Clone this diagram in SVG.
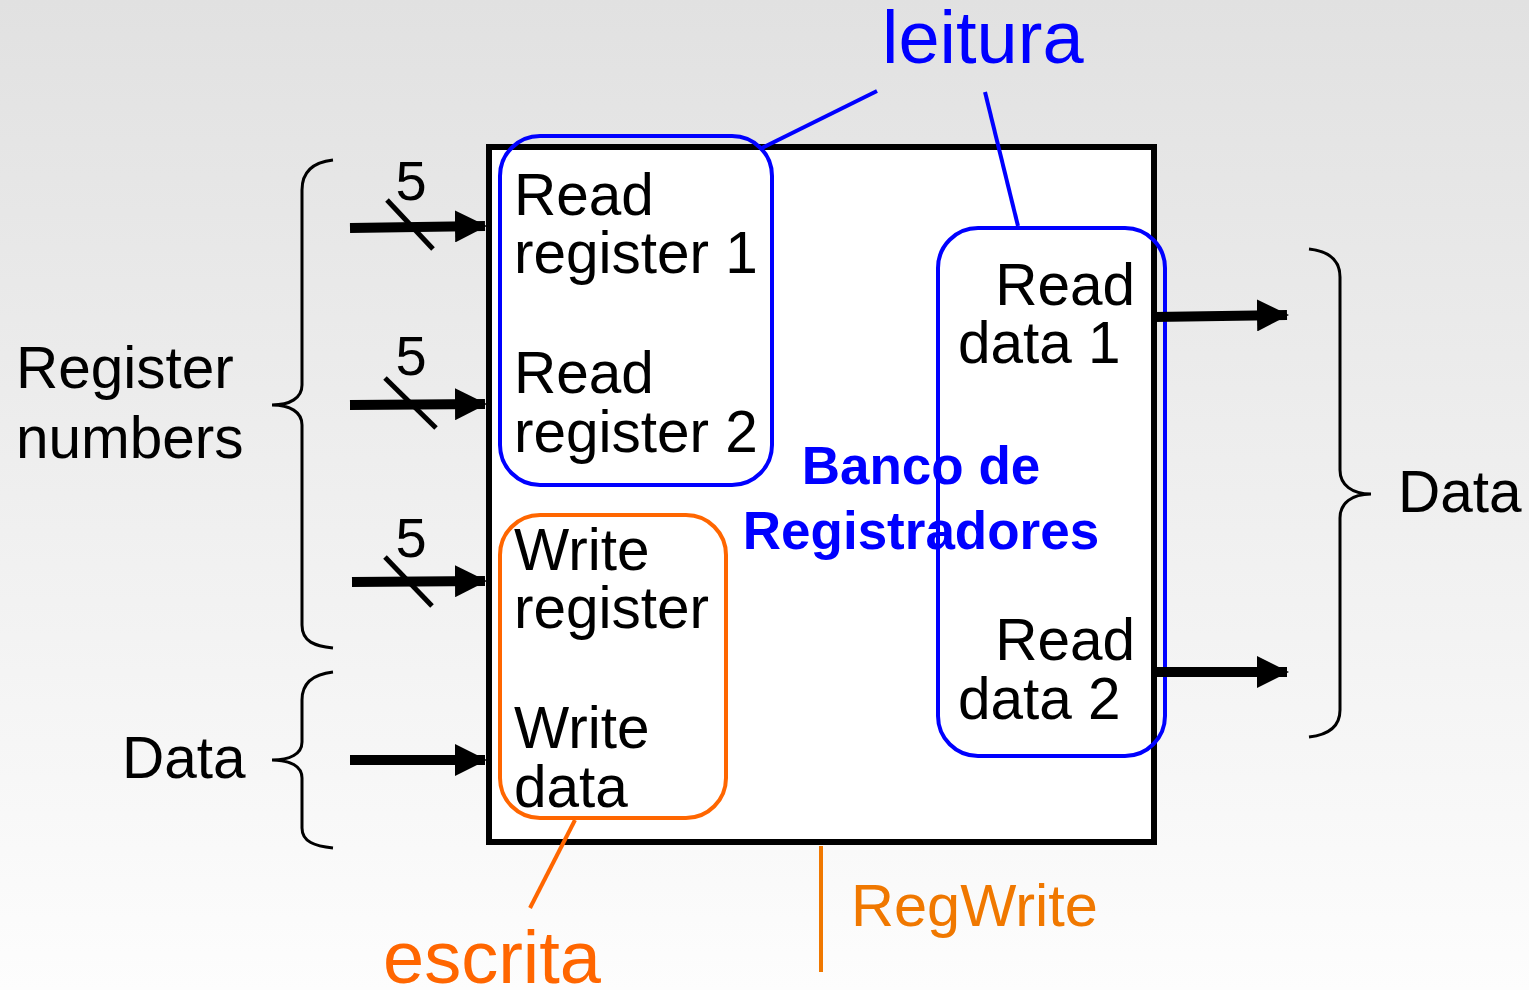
<svg xmlns="http://www.w3.org/2000/svg" width="1529" height="990" viewBox="0 0 1529 990">
  <defs>
    <linearGradient id="bg" x1="0" y1="0" x2="0" y2="1">
      <stop offset="0" stop-color="#e1e1e1"/>
      <stop offset="1" stop-color="#fdfdfd"/>
    </linearGradient>
    <marker id="head" viewBox="0 0 32 32" refX="30" refY="16" markerWidth="32" markerHeight="32" markerUnits="userSpaceOnUse" orient="auto">
      <path d="M0,0 L32,16 L0,32 Z" fill="#000"/>
    </marker>
  </defs>
  <style>
    .t { font-family: "Liberation Sans", Arial, sans-serif; font-size: 58.5px; fill: #000; }
    .blue { fill: #0000ff; }
    .orange { fill: #ff6600; }
    .big { font-size: 74px; }
    .title { font-weight: bold; font-size: 53px; fill: #0000ff; }
    .bus { stroke: #000; stroke-width: 10; fill: none; marker-end: url(#head); }
    .slash { stroke: #000; stroke-width: 5; }
    .brace { stroke: #000; stroke-width: 3; fill: none; }
    .hl-blue { stroke: #0000ff; stroke-width: 4; fill: none; }
    .hl-orange { stroke: #ff6600; stroke-width: 4; fill: none; }
  </style>

  <rect x="0" y="0" width="1529" height="990" fill="url(#bg)"/>

  <!-- register file block -->
  <g id="regfile">
    <rect x="489" y="147" width="665" height="695" fill="#fff" stroke="#000" stroke-width="6"/>
    <text class="t title" x="921" y="484" text-anchor="middle">Banco de</text>
    <text class="t title" x="921" y="549" text-anchor="middle">Registradores</text>
  </g>

  <!-- port labels -->
  <g id="port-read1">
    <text class="t" x="514" y="215">Read</text>
    <text class="t" x="514" y="273">register 1</text>
  </g>
  <g id="port-read2">
    <text class="t" x="514" y="393">Read</text>
    <text class="t" x="514" y="452">register 2</text>
  </g>
  <g id="port-write-reg">
    <text class="t" x="514" y="570">Write</text>
    <text class="t" x="514" y="628">register</text>
  </g>
  <g id="port-write-data">
    <text class="t" x="514" y="748">Write</text>
    <text class="t" x="514" y="807">data</text>
  </g>
  <g id="port-data1">
    <text class="t" x="1135" y="305" text-anchor="end">Read</text>
    <text class="t" x="958" y="363">data 1</text>
  </g>
  <g id="port-data2">
    <text class="t" x="1135" y="660" text-anchor="end">Read</text>
    <text class="t" x="958" y="719">data 2</text>
  </g>

  <!-- highlight groups -->
  <g id="read-group">
    <rect class="hl-blue" x="500" y="136" width="272" height="349" rx="40"/>
    <rect class="hl-blue" x="938" y="228" width="227" height="528" rx="40"/>
    <text class="t blue big" x="882" y="63">leitura</text>
  </g>
  <g id="write-group">
    <rect class="hl-orange" x="500" y="515" width="226" height="303" rx="40"/>
    <text class="t orange big" x="383" y="983">escrita</text>
  </g>
  <g id="regwrite">
    <text class="t" x="851" y="926" style="fill:#f07800;font-size:59.5px">RegWrite</text>
  </g>

  <!-- side labels -->
  <g id="label-regnums">
    <text class="t" x="16" y="388">Register</text>
    <text class="t" x="16" y="458">numbers</text>
  </g>
  <g id="label-data-in">
    <text class="t" x="122" y="778">Data</text>
  </g>
  <g id="label-data-out">
    <text class="t" x="1398" y="512">Data</text>
  </g>

  <!-- braces -->
  <g id="braces">
    <path class="brace" d="M333,160 C315,162 302,170 302,190 L302,385 C302,398 290,405 272,405 C290,405 302,412 302,425 L302,625 C302,642 315,646 333,648"/>
    <path class="brace" d="M333,672 C315,674 302,682 302,700 L302,742 C302,754 290,760 272,760 C290,760 302,766 302,778 L302,828 C302,842 315,846 333,848"/>
    <path class="brace" d="M1309,249 C1327,251 1340,259 1340,277 L1340,470 C1340,485 1352,494 1371,494 C1352,494 1340,503 1340,518 L1340,710 C1340,728 1327,735 1309,737"/>
  </g>

  <!-- connectors -->
  <g id="connectors">
    <line class="bus" x1="350" y1="228" x2="485" y2="226"/>
    <line class="bus" x1="350" y1="405" x2="485" y2="404"/>
    <line class="bus" x1="352" y1="582" x2="485" y2="581"/>
    <line class="bus" x1="350" y1="760" x2="485" y2="760"/>
    <line class="bus" x1="1154" y1="317" x2="1287" y2="315"/>
    <line class="bus" x1="1154" y1="672" x2="1287" y2="672"/>

    <line class="slash" x1="387" y1="200" x2="433" y2="249"/>
    <line class="slash" x1="385" y1="378" x2="436" y2="428"/>
    <line class="slash" x1="385" y1="557" x2="432" y2="606"/>

    <line class="hl-blue" x1="762" y1="148" x2="877" y2="91"/>
    <line class="hl-blue" x1="985" y1="92" x2="1018" y2="226"/>
    <line class="hl-orange" x1="575" y1="820" x2="530" y2="908"/>
    <line x1="821" y1="846" x2="821" y2="972" stroke="#f07800" stroke-width="4"/>
  </g>

  <!-- bus widths -->
  <g id="bus-widths">
    <text class="t" x="411" y="200" text-anchor="middle" style="font-size:56px">5</text>
    <text class="t" x="411" y="375" text-anchor="middle" style="font-size:56px">5</text>
    <text class="t" x="411" y="557" text-anchor="middle" style="font-size:56px">5</text>
  </g>
</svg>
